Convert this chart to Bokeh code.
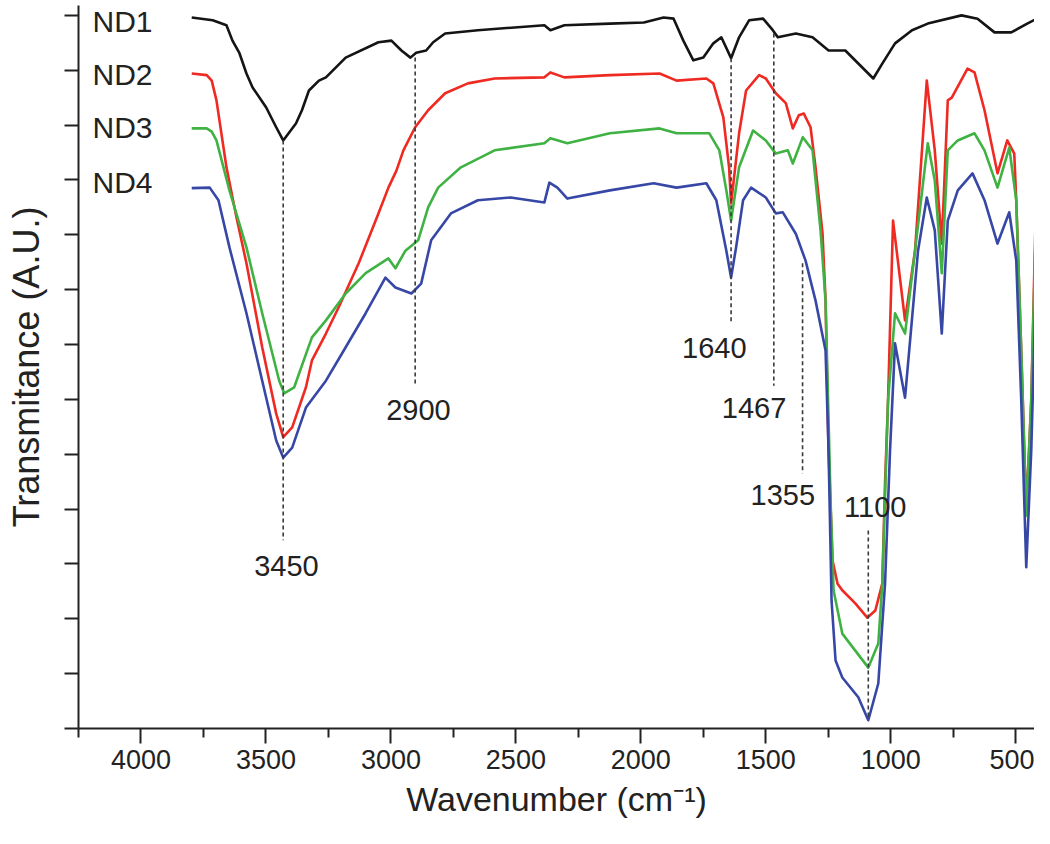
from bokeh.plotting import figure
from bokeh.models import FixedTicker, Range1d, Label, ColumnDataSource, CustomJSTickFormatter
from bokeh.embed import file_html
from bokeh.resources import INLINE
from bokeh.core.properties import value

# ---------------- data (wavenumber cm^-1, transmittance A.U.) ----------------
nd1_wn = [3797, 3713, 3658, 3634, 3606, 3578, 3554, 3499, 3459, 3431, 3380, 3356, 3328, 3288, 3260, 3181,
          3050, 2998, 2958, 2922, 2899, 2859, 2831, 2783, 2652, 2386, 2362, 2306, 2124, 1988, 1909, 1869,
          1830, 1790, 1750, 1710, 1678, 1639, 1607, 1567, 1511, 1472, 1452, 1380, 1313, 1249, 1182, 1114,
          1070, 1034, 983, 915, 852, 717, 653, 585, 518, 454, 407, 400]
nd1_t = [12.96, 12.91, 12.82, 12.54, 12.31, 11.94, 11.69, 11.32, 10.96, 10.72, 11.03, 11.27, 11.63, 11.81, 11.87, 12.23,
         12.51, 12.54, 12.36, 12.23, 12.32, 12.36, 12.51, 12.67, 12.73, 12.82, 12.73, 12.82, 12.85, 12.87, 12.96, 12.94,
         12.54, 12.18, 12.23, 12.49, 12.60, 12.22, 12.60, 12.91, 12.94, 12.73, 12.60, 12.67, 12.60, 12.36, 12.36, 12.05,
         11.85, 12.12, 12.49, 12.73, 12.85, 13.00, 12.94, 12.69, 12.69, 12.85, 12.96, 12.42]

nd2_wn = [3797, 3737, 3717, 3698, 3658, 3618, 3578, 3515, 3459, 3431, 3395, 3340, 3316, 3260, 3209,
          3129, 3050, 3010, 2978, 2950, 2903, 2851, 2783, 2692, 2585, 2386, 2362, 2306, 2124, 1925,
          1857, 1738, 1710, 1670, 1647, 1639, 1607, 1579, 1527, 1500, 1460, 1420, 1392, 1368, 1348,
          1321, 1301, 1273, 1261, 1249, 1233, 1213, 1194, 1142, 1094, 1062, 1034, 1023, 1011, 991,
          943, 903, 856, 824, 796, 772, 756, 693, 665, 625, 573, 534, 506, 498, 478, 458, 438, 419, 400]
nd2_t = [11.94, 11.91, 11.81, 11.45, 10.23, 9.32, 8.48, 6.95, 5.74, 5.31, 5.49, 6.22, 6.71, 7.20, 7.68,
         8.48, 9.39, 9.86, 10.17, 10.54, 10.96, 11.27, 11.58, 11.76, 11.85, 11.87, 11.96, 11.87, 11.91, 11.94,
         11.81, 11.85, 11.76, 11.14, 10.23, 9.57, 10.85, 11.63, 11.91, 11.85, 11.58, 11.40, 10.94, 11.18, 11.21,
         10.96, 10.23, 9.02, 7.80, 5.07, 3.06, 2.64, 2.52, 2.28, 2.02, 2.15, 2.64, 4.47, 5.98, 9.26,
         7.44, 8.71, 11.81, 10.54, 8.84, 11.45, 11.50, 12.03, 11.96, 11.27, 10.12, 10.72, 10.48, 9.63, 6.89,
         3.97, 5.98, 9.63, 11.40]

nd3_wn = [3797, 3737, 3717, 3698, 3646, 3578, 3515, 3447, 3427, 3387, 3316, 3260, 3181, 3101, 3010, 2982,
          2942, 2891, 2851, 2811, 2720, 2585, 2386, 2362, 2294, 2124, 1925, 1857, 1726, 1686, 1658,
          1639, 1607, 1551, 1500, 1460, 1412, 1392, 1352, 1313, 1281, 1261, 1241, 1229, 1194, 1142,
          1090, 1050, 1034, 1011, 983, 943, 903, 852, 824, 796, 772, 732, 665, 625, 573,
          526, 498, 478, 458, 438, 419, 400]
nd3_t = [10.94, 10.94, 10.88, 10.72, 9.81, 8.77, 7.57, 6.34, 6.11, 6.22, 7.13, 7.44, 7.93, 8.30, 8.57, 8.39,
         8.71, 8.90, 9.50, 9.86, 10.23, 10.54, 10.67, 10.76, 10.67, 10.85, 10.94, 10.85, 10.85, 10.54, 9.81,
         9.26, 10.23, 10.90, 10.72, 10.48, 10.54, 10.30, 10.78, 10.54, 9.08, 7.80, 4.16, 2.52, 1.73, 1.42,
         1.11, 1.55, 2.64, 5.98, 7.57, 7.20, 8.71, 10.67, 9.99, 8.30, 10.54, 10.72, 10.85, 10.54, 9.86,
         10.59, 9.63, 6.89, 3.88, 5.98, 9.26, 10.41]

nd4_wn = [3797, 3725, 3690, 3646, 3578, 3515, 3459, 3431, 3395, 3340, 3260, 3181, 3101, 3022, 2982,
          2918, 2879, 2839, 2760, 2652, 2521, 2386, 2366, 2334, 2294, 2124, 1949, 1857, 1738, 1698,
          1658, 1639, 1619, 1591, 1559, 1500, 1460, 1432, 1380, 1341, 1301, 1261, 1249, 1237, 1221,
          1194, 1130, 1090, 1050, 1023, 1003, 983, 943, 891, 856, 824, 796, 772, 732, 673,
          625, 573, 526, 498, 478, 458, 438, 419, 400]
nd4_t = [9.85, 9.86, 9.63, 8.77, 7.57, 6.34, 5.25, 4.94, 5.12, 5.85, 6.34, 6.95, 7.57, 8.22, 8.04,
         7.93, 8.11, 8.90, 9.39, 9.63, 9.68, 9.59, 9.95, 9.86, 9.66, 9.81, 9.94, 9.86, 9.94, 9.63,
         8.71, 8.22, 8.77, 9.63, 9.86, 9.68, 9.39, 9.41, 9.02, 8.53, 7.80, 6.89, 5.07, 2.33, 1.24,
         0.93, 0.57, 0.15, 0.82, 2.64, 5.07, 7.02, 6.03, 8.71, 9.68, 9.08, 7.20, 9.26, 9.81, 10.12,
         9.63, 8.84, 9.41, 8.53, 5.98, 2.94, 5.07, 8.17, 9.50]

series_names = ["ND1", "ND2", "ND3", "ND4"]
series_colors = ["#141414", "#ee2a22", "#3fb243", "#3747a6"]
series_name_y = [12.88, 11.92, 10.95, 9.95]
series_name_x = 4194

# peak annotations
peak_labels = ["3450", "2900", "1640", "1467", "1355", "1100"]
peak_pos = [3431, 2903, 1639, 1468, 1353, 1090]
peak_line_top = [10.72, 12.23, 12.22, 12.67, 8.48, 3.61]
peak_line_bottom = [3.43, 6.25, 7.38, 6.25, 4.65, 0.20]
peak_label_x = [3418, 2890, 1706, 1547, 1432, 1062]
peak_label_y = [2.97, 5.80, 6.93, 5.85, 4.25, 4.03]

x_major = [4000, 3500, 3000, 2500, 2000, 1500, 1000, 500]
x_minor = [4250, 3750, 3250, 2750, 2250, 1750, 1250, 750]
y_ticks = list(range(0, 14))

FONT = "Liberation Sans"
TXT = "#222222"

p = figure(width=1034, height=828, output_backend="svg", toolbar_location=None,
           x_range=Range1d(4250, 425), y_range=Range1d(0, 13.18),
           min_border_left=78, min_border_right=0, min_border_top=5, min_border_bottom=100)
p.background_fill_color = "white"
p.border_fill_color = "white"
p.outline_line_color = None
p.grid.grid_line_color = None

# curves
for wn, t, col in [(nd1_wn, nd1_t, series_colors[0]), (nd2_wn, nd2_t, series_colors[1]),
                   (nd3_wn, nd3_t, series_colors[2]), (nd4_wn, nd4_t, series_colors[3])]:
    p.line(wn, t, line_color=col, line_width=2.6, line_join="round")

# dashed peak markers
p.segment(x0=peak_pos, y0=peak_line_top, x1=peak_pos, y1=peak_line_bottom,
          line_color="#3a3a3a", line_width=1.6, line_dash="4 3")
src = ColumnDataSource(dict(x=peak_label_x, y=peak_label_y, t=peak_labels))
p.text(x="x", y="y", text="t", source=src, text_font=value(FONT), text_font_size="29px",
       text_color=TXT, text_align="center", text_baseline="middle")

# series names
for name, yy in zip(series_names, series_name_y):
    p.add_layout(Label(x=series_name_x, y=yy, text=name, text_font=FONT, text_font_size="30px",
                       text_color=TXT, text_align="left", text_baseline="middle"))

# axes
xa = p.xaxis[0]
xa.ticker = FixedTicker(ticks=x_major, minor_ticks=x_minor)
xa.axis_label = "Wavenumber (cm\u207b\u00b9)"
xa.major_tick_out = 15
xa.major_tick_in = 0
xa.minor_tick_out = 9
xa.minor_tick_in = 0
xa.major_label_standoff = 6
xa.axis_label_standoff = 8
xa.minor_tick_line_width = 2
xa.minor_tick_line_color = "#222222"

ya = p.yaxis[0]
ya.ticker = FixedTicker(ticks=y_ticks)
ya.formatter = CustomJSTickFormatter(code="return ''")
ya.axis_label = "Transmitance (A.U.)"
ya.major_tick_out = 14
ya.major_tick_in = 0
ya.minor_tick_line_color = None
ya.major_label_standoff = 0
ya.axis_label_standoff = 18

for ax in (xa, ya):
    ax.axis_line_width = 2
    ax.axis_line_color = "#222222"
    ax.major_tick_line_width = 2
    ax.major_tick_line_color = "#222222"
    ax.major_label_text_font = FONT
    ax.major_label_text_color = TXT
    ax.axis_label_text_font = FONT
    ax.axis_label_text_color = TXT
    ax.axis_label_text_font_style = "normal"

xa.major_label_text_font_size = "27px"
xa.axis_label_text_font_size = "34px"
ya.axis_label_text_font_size = "36px"

open("out.html", "w").write(file_html(p, INLINE))
